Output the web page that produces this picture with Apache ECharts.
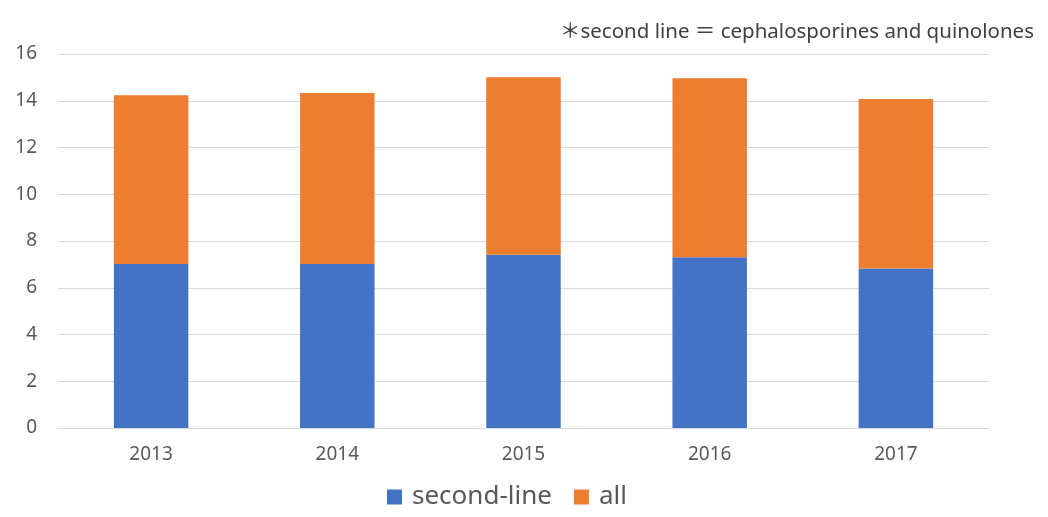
<!DOCTYPE html>
<html>
<head>
<meta charset="utf-8">
<script src="https://cdn.jsdelivr.net/npm/echarts@6/dist/echarts.min.js"></script>
<style>
html,body{margin:0;padding:0;background:#fff;}
#chart{width:1048px;height:517px;}
</style>
</head>
<body>
<div id="chart"></div>
<script>
const years = ['2013', '2014', '2015', '2016', '2017'];
const secondLine = [7.02, 7.02, 7.41, 7.31, 6.82];
const allOther = [7.22, 7.31, 7.60, 7.65, 7.26];
const yTicks = [0, 2, 4, 6, 8, 10, 12, 14, 16];
const note = '＊second line ＝ cephalosporines and quinolones';

const chart = echarts.init(document.getElementById('chart'));
const labelFont = "'Noto Sans', sans-serif";
chart.setOption({
  animation: false,
  title: {
    text: note,
    right: 9,
    top: 17,
    textStyle: { fontSize: 20.5, fontWeight: 'normal', color: '#404040', fontFamily: "'Noto Sans', 'Noto Sans CJK JP', sans-serif" }
  },
  legend: {
    bottom: 2,
    left: 382,
    itemWidth: 15,
    itemHeight: 15,
    itemGap: 22,
    icon: 'rect',
    textStyle: { fontSize: 26, color: '#595959', fontFamily: "'Noto Sans', sans-serif", padding: [0, 0, 0, 5] },
    data: ['second-line', 'all']
  },
  grid: { left: 58, right: 59, top: 54, bottom: 89, containLabel: false },
  xAxis: {
    type: 'category',
    data: years,
    axisLine: { lineStyle: { color: '#d9d9d9' } },
    axisTick: { show: false },
    axisLabel: { fontSize: 19, color: '#595959', margin: 17, fontFamily: labelFont }
  },
  yAxis: {
    type: 'value',
    min: yTicks[0],
    max: yTicks[yTicks.length - 1],
    interval: 2,
    axisLine: { show: false },
    axisTick: { show: false },
    splitLine: { lineStyle: { color: '#d9d9d9' } },
    axisLabel: { fontSize: 19, color: '#595959', margin: 21, fontFamily: labelFont }
  },
  series: [
    {
      name: 'second-line',
      type: 'bar',
      stack: 'total',
      barWidth: '40%',
      data: secondLine,
      itemStyle: { color: '#4472C4' }
    },
    {
      name: 'all',
      type: 'bar',
      stack: 'total',
      barWidth: '40%',
      data: allOther,
      itemStyle: { color: '#ED7D31' }
    }
  ]
});
</script>
</body>
</html>
